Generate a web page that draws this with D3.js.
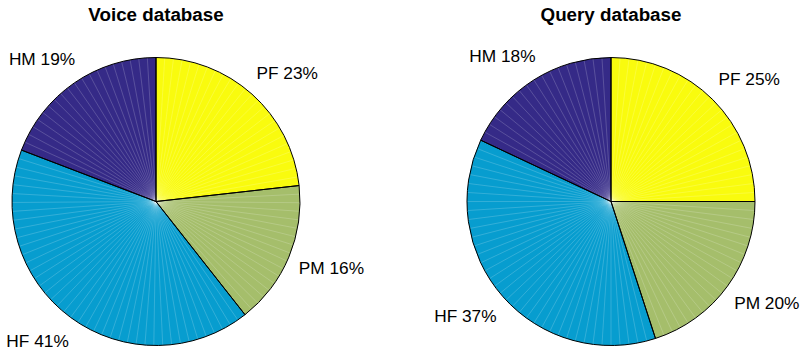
<!DOCTYPE html>
<html>
<head>
<meta charset="utf-8">
<script src="https://cdn.jsdelivr.net/npm/d3@7"></script>
<style>
  html, body { margin: 0; padding: 0; background: #fff; }
  svg { display: block; }
</style>
</head>
<body>
<svg id="chart" width="800" height="351"></svg>
<script>
// Category names and shares (%) for both pies, in drawing order (clockwise from 12 o'clock)
const categories = ["PF", "PM", "HF", "HM"];
const voiceValues = [23, 16, 41, 19];
const queryValues = [25, 20, 37, 18];
const titles = ["Voice database", "Query database"];
const sliceColors = ["#f9fb0e", "#a5be6b", "#079dcf", "#352a87"];

const svg = d3.select("#chart");
const W = 800, H = 351;
svg.append("rect").attr("width", W).attr("height", H).attr("fill", "#fff");

const color = d3.scaleOrdinal().domain(categories).range(sliceColors);
const R = 144;
const panels = [
  { title: titles[0], values: voiceValues, cx: 156, cy: 201.5 },
  { title: titles[1], values: queryValues, cx: 611, cy: 201.5 }
];

const pie = d3.pie().sort(null).value(d => d.value);
const arc = d3.arc().innerRadius(0).outerRadius(R);

panels.forEach(p => {
  const data = categories.map((c, i) => ({ cat: c, value: p.values[i] }));
  const arcs = pie(data);
  const total = d3.sum(p.values);
  const g = svg.append("g").attr("transform", `translate(${p.cx},${p.cy})`);

  // slice fills
  g.selectAll("path.slice").data(arcs).join("path")
    .attr("class", "slice")
    .attr("d", arc)
    .attr("fill", d => color(d.data.cat));

  // faint facet seams: each slice is built from ~3.6° segments
  arcs.forEach(a => {
    const frac = a.data.value / total;
    const n = Math.max(1, Math.ceil(100 * frac));
    for (let k = 1; k < n; k++) {
      const t = a.startAngle + (a.endAngle - a.startAngle) * k / n;
      g.append("line")
        .attr("x1", 0).attr("y1", 0)
        .attr("x2", R * Math.sin(t)).attr("y2", -R * Math.cos(t))
        .attr("stroke", "#fff")
        .attr("stroke-opacity", 0.3)
        .attr("stroke-width", 0.6);
    }
  });

  // slice outlines
  g.selectAll("path.edge").data(arcs).join("path")
    .attr("class", "edge")
    .attr("d", arc)
    .attr("fill", "none")
    .attr("stroke", "#000")
    .attr("stroke-width", 1)
    .attr("stroke-linejoin", "round");

  // labels
  g.selectAll("text.lbl").data(arcs).join("text")
    .attr("class", "lbl")
    .each(function(d) {
      const mid = (d.startAngle + d.endAngle) / 2;
      const x = 1.2 * R * Math.sin(mid);
      const y = -1.2 * R * Math.cos(mid);
      const shift = Math.sin(mid) >= 0 ? 16 : -16;
      d3.select(this)
        .attr("x", x + shift)
        .attr("y", y + 6)
        .attr("text-anchor", "middle");
    })
    .attr("font-family", "'Liberation Sans', Arial, sans-serif")
    .attr("font-size", 17.3)
    .attr("fill", "#000")
    .text(d => `${d.data.cat} ${d.data.value}%`);

  // title
  svg.append("text")
    .attr("x", p.cx)
    .attr("y", 20.5)
    .attr("text-anchor", "middle")
    .attr("font-family", "'Liberation Sans', Arial, sans-serif")
    .attr("font-weight", "bold")
    .attr("font-size", 18.8)
    .attr("fill", "#000")
    .text(p.title);
});
</script>
</body>
</html>
